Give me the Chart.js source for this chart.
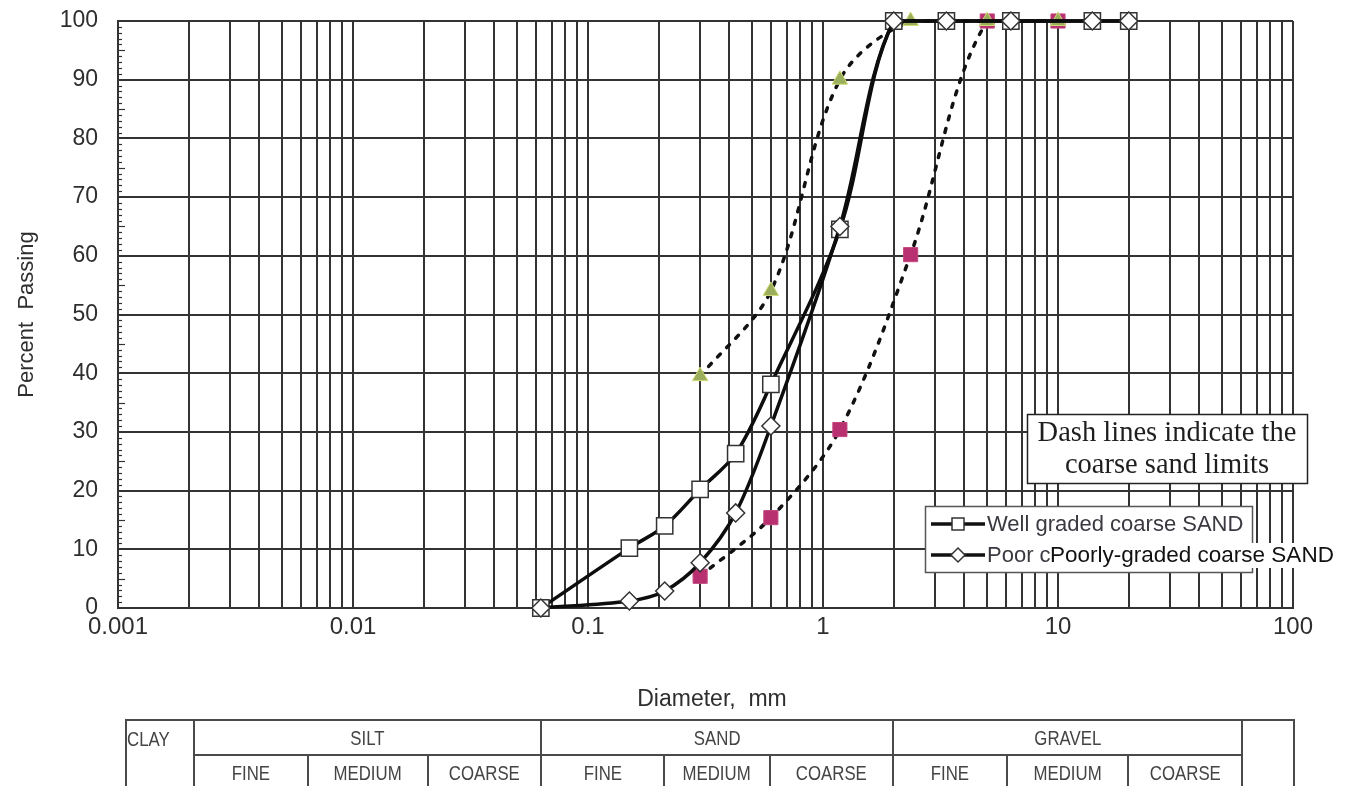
<!DOCTYPE html>
<html><head><meta charset="utf-8">
<script src="https://cdn.jsdelivr.net/npm/chart.js@4.4.1/dist/chart.umd.min.js"></script>
<style>
html,body{margin:0;padding:0;background:#fff;}
#wrap{position:relative;width:1348px;height:786px;overflow:hidden;background:#fff;}
#c{position:absolute;left:0;top:0;}
table.cls{position:absolute;left:125px;top:719px;border-collapse:collapse;table-layout:fixed;width:1168px;
 font-family:"Liberation Sans",Arial,sans-serif;font-size:21px;color:#444;}
table.cls td{border:2px solid #4a4a4a;padding:0;text-align:center;height:33px;overflow:hidden;white-space:nowrap;}
table.cls td span{display:inline-block;transform:scaleX(0.8);transform-origin:center;}
table.cls td.clay{text-align:left;vertical-align:top;padding:6px 0 0 0;}
table.cls td.clay span{transform-origin:left center;}
</style></head>
<body>
<div id="wrap">
<canvas id="c" width="1348" height="786"></canvas>
<table class="cls">
<colgroup>
<col style="width:68px"><col style="width:114px"><col style="width:120px"><col style="width:113px">
<col style="width:123px"><col style="width:106px"><col style="width:123px">
<col style="width:114px"><col style="width:121px"><col style="width:114px"><col style="width:52px">
</colgroup>
<tr><td class="clay" rowspan="2"><span>CLAY</span></td><td colspan="3"><span>SILT</span></td><td colspan="3"><span>SAND</span></td><td colspan="3"><span>GRAVEL</span></td><td rowspan="2"></td></tr>
<tr><td><span>FINE</span></td><td><span>MEDIUM</span></td><td><span>COARSE</span></td><td><span>FINE</span></td><td><span>MEDIUM</span></td><td><span>COARSE</span></td><td><span>FINE</span></td><td><span>MEDIUM</span></td><td><span>COARSE</span></td></tr>
</table>
</div>
<script>
// ---- data ----
const sieveSizes   = [0.063, 0.15, 0.212, 0.3, 0.425, 0.6, 1.18, 2, 3.35, 6.3, 14, 20];
const wellGraded   = [0, 10.2, 14, 20.2, 26.3, 38.1, 64.5, 100, 100, 100, 100, 100];
const poorlyGraded = [0, 1.2, 2.9, 7.7, 16.2, 31, 65, 100, 100, 100, 100, 100];
const limitSizes   = [0.3, 0.6, 1.18, 2.36, 5, 10];
const upperLimit   = [39.5, 54, 90, 100, 100, 100];
const lowerLimit   = [5.4, 15.4, 30.4, 60.2, 100, 100];
const xDecades     = [0.001, 0.01, 0.1, 1, 10, 100];
const xTickLabels  = ['0.001', '0.01', '0.1', '1', '10', '100'];
const yTickValues  = [0, 10, 20, 30, 40, 50, 60, 70, 80, 90, 100];
const seriesNames  = ['Well graded coarse SAND', 'Poorly-graded coarse SAND', 'Upper limit', 'Lower limit'];
const xAxisTitle   = 'Diameter,  mm';
const yAxisTitle   = 'Percent  Passing';

const pts = (xs, ys) => xs.map((x, i) => ({x: x, y: ys[i]}));

// grid values: 1..9 x 10^n within the axis range
const gridValues = [];
for (let d = 0; d < xDecades.length - 1; d++) {
  for (let m = 1; m <= 9; m++) gridValues.push(xDecades[d] * m);
}
gridValues.push(xDecades[xDecades.length - 1]);

const AX = '#333333';
const TXT = '#2e2e2e';
const FONT = '"Liberation Sans", Arial, sans-serif';

const minorTicks = {
  id: 'minorTicks',
  beforeDatasetsDraw(chart) {
    const {ctx, chartArea} = chart;
    const y = chart.scales.y;
    ctx.save();
    ctx.strokeStyle = AX;
    ctx.lineWidth = 1.2;
    for (let v = 1; v < 100; v++) {
      if (v % 10 === 0) continue;
      const py = Math.round(y.getPixelForValue(v)) + 0.5;
      ctx.beginPath();
      ctx.moveTo(chartArea.left, py);
      ctx.lineTo(chartArea.left + (v % 5 === 0 ? 7 : 4), py);
      ctx.stroke();
    }
    ctx.restore();
  }
};

const annotations = {
  id: 'annotations',
  afterDatasetsDraw(chart) {
    const ctx = chart.ctx;
    ctx.save();
    // x axis title
    ctx.fillStyle = TXT;
    ctx.font = '23px ' + FONT;
    ctx.textAlign = 'center';
    ctx.textBaseline = 'middle';
    ctx.fillText(xAxisTitle, 712, 700);

    // text box
    ctx.fillStyle = '#fff';
    ctx.fillRect(1027, 414, 280, 69);
    ctx.strokeStyle = '#222';
    ctx.lineWidth = 1.5;
    ctx.strokeRect(1027.5, 414.5, 280, 69);
    ctx.fillStyle = '#1e1e1e';
    ctx.font = '28.5px "Liberation Serif", "Times New Roman", serif';
    ctx.fillText('Dash lines indicate the', 1167, 434);
    ctx.fillText('coarse sand limits', 1167, 466);

    // legend box
    ctx.fillStyle = '#fff';
    ctx.fillRect(925, 506, 327, 66);
    ctx.strokeStyle = '#555';
    ctx.lineWidth = 1.5;
    ctx.strokeRect(925.5, 506.5, 327, 66);
    const rows = [524, 555];
    rows.forEach((ry, i) => {
      ctx.strokeStyle = '#111';
      ctx.lineWidth = 3.5;
      ctx.beginPath(); ctx.moveTo(931, ry); ctx.lineTo(985, ry); ctx.stroke();
      ctx.fillStyle = '#fff';
      ctx.strokeStyle = '#333';
      ctx.lineWidth = 1.5;
      ctx.beginPath();
      if (i === 0) {
        ctx.rect(952, ry - 6, 12, 12);
      } else {
        ctx.moveTo(958, ry - 7); ctx.lineTo(965, ry); ctx.lineTo(958, ry + 7); ctx.lineTo(951, ry); ctx.closePath();
      }
      ctx.fill(); ctx.stroke();
    });
    ctx.fillStyle = '#3b3840';
    ctx.font = '22px ' + FONT;
    ctx.textAlign = 'left';
    ctx.fillText(seriesNames[0], 987, rows[0] + 1);
    ctx.fillText('Poor c', 987, rows[1] + 1);
    // overlaid text
    ctx.fillStyle = '#fff';
    ctx.fillRect(1050, 543, 287, 25);
    ctx.fillStyle = '#111';
    ctx.font = '22.5px ' + FONT;
    ctx.fillText(seriesNames[1], 1050, rows[1] + 1);
    ctx.restore();
  }
};

new Chart(document.getElementById('c'), {
  type: 'line',
  data: {
    datasets: [
      {
        label: seriesNames[1], data: pts(sieveSizes, poorlyGraded), order: 0,
        borderColor: '#0d0d0d', borderWidth: 3.5, tension: 0.33,
        pointStyle: 'rectRot', pointRadius: 9, pointBackgroundColor: '#fff',
        pointBorderColor: '#333', pointBorderWidth: 1.5, clip: false
      },
      {
        label: seriesNames[0], data: pts(sieveSizes, wellGraded), order: 1,
        borderColor: '#0d0d0d', borderWidth: 3.5, tension: 0.33,
        pointStyle: 'rect', pointRadius: 11.5, pointBackgroundColor: '#fff',
        pointBorderColor: '#333', pointBorderWidth: 1.5, clip: false
      },
      {
        label: seriesNames[2], data: pts(limitSizes, upperLimit), order: 2,
        borderColor: '#111', borderWidth: 3.5, borderDash: [4, 9], borderCapStyle: 'round', tension: 0.33,
        pointStyle: 'triangle', pointRadius: 9, pointBackgroundColor: '#9aae5c',
        pointBorderColor: '#d2dc7a', pointBorderWidth: 1, clip: false
      },
      {
        label: seriesNames[3], data: pts(limitSizes, lowerLimit), order: 3,
        borderColor: '#111', borderWidth: 3.5, borderDash: [4, 9], borderCapStyle: 'round', tension: 0.33,
        pointStyle: 'rect', pointRadius: 10, pointBackgroundColor: '#b8306f',
        pointBorderColor: '#c4477f', pointBorderWidth: 1, clip: false
      }
    ]
  },
  options: {
    responsive: false,
    animation: false,
    events: [],
    layout: {padding: {left: 0, right: 55, top: 21, bottom: 72}},
    plugins: {legend: {display: false}, tooltip: {enabled: false}, title: {display: false}},
    scales: {
      x: {
        type: 'logarithmic', min: 0.001, max: 100,
        afterBuildTicks: s => { s.ticks = gridValues.map(v => ({value: v})); },
        afterFit: s => { s.height = 106; },
        grid: {color: AX, lineWidth: 2, drawTicks: false},
        border: {color: AX, width: 2},
        ticks: {
          autoSkip: false, maxRotation: 0, minRotation: 0, padding: 5,
          color: TXT, font: {family: FONT, size: 24},
          callback: v => {
            const i = xDecades.findIndex(d => Math.abs(d - v) / d < 1e-6);
            return i >= 0 ? xTickLabels[i] : '';
          }
        },
        title: {display: false}
      },
      y: {
        type: 'linear', min: 0, max: 100,
        afterBuildTicks: s => { s.ticks = yTickValues.map(v => ({value: v})); },
        afterFit: s => { s.width = 118; },
        grid: {color: AX, lineWidth: 2, drawTicks: true, tickLength: 18, tickColor: 'rgba(0,0,0,0)'},
        border: {color: AX, width: 2},
        ticks: {padding: 2, color: TXT, font: {family: FONT, size: 23}},
        title: {display: true, text: yAxisTitle, color: TXT,
                font: {family: FONT, size: 22}, padding: {top: 14, bottom: 0}}
      }
    }
  },
  plugins: [minorTicks, annotations]
});
</script>
</body></html>
